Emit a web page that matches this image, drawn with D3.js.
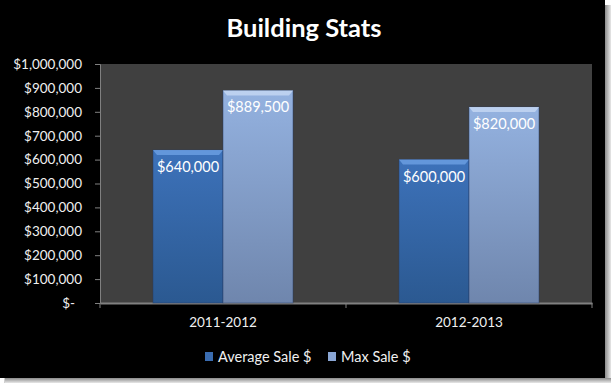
<!DOCTYPE html>
<html><head><meta charset="utf-8">
<script src="https://cdn.jsdelivr.net/npm/d3@7"></script>
<style>body{margin:0;background:#fff;}svg{display:block;}</style>
</head><body>
<svg id="c" width="611" height="383"></svg>
<script>
const categories = ["2011-2012", "2012-2013"];
const seriesNames = ["Average Sale $", "Max Sale $"];
const avgSale = [640000, 600000];
const maxSale = [889500, 820000];
const yTicks = [0,100000,200000,300000,400000,500000,600000,700000,800000,900000,1000000];

const svg = d3.select("#c");
const font = "Lato, 'Open Sans', sans-serif";
const defs = svg.append("defs");

// shadow frame
const sh = defs.append("linearGradient").attr("id","shR").attr("x1",0).attr("x2",1).attr("y1",0).attr("y2",0);
sh.append("stop").attr("offset",0).attr("stop-color","#8a8a8a");
sh.append("stop").attr("offset",1).attr("stop-color","#e8e8e8");
const shb = defs.append("linearGradient").attr("id","shB").attr("x1",0).attr("x2",0).attr("y1",0).attr("y2",1);
shb.append("stop").attr("offset",0).attr("stop-color","#8a8a8a");
shb.append("stop").attr("offset",1).attr("stop-color","#e8e8e8");
svg.append("rect").attr("x",4).attr("y",6).attr("width",607).attr("height",377).attr("fill","#d0d0d0");
svg.append("rect").attr("x",605).attr("y",5).attr("width",6).attr("height",378).attr("fill","url(#shR)");
svg.append("rect").attr("x",5).attr("y",378).attr("width",606).attr("height",5).attr("fill","url(#shB)");
svg.append("rect").attr("x",0).attr("y",0).attr("width",605).attr("height",378).attr("fill","#000");

// gradients for bars
function grad(id, top, bot){
  const g = defs.append("linearGradient").attr("id",id).attr("x1",0).attr("x2",0).attr("y1",0).attr("y2",1);
  g.append("stop").attr("offset",0).attr("stop-color",top);
  g.append("stop").attr("offset",1).attr("stop-color",bot);
}
grad("gAvg","#3d72ba","#2b5991");
grad("gMax","#94b2e0","#6f86ad");
const fills = ["url(#gAvg)","url(#gMax)"];
const edges = ["#6a9ee0","#c3d6f2"];
const legendFills = ["#3a6cb0","#8aa6d4"];

const plotL = 100, plotR = 592, plotT = 64, plotB = 303;

svg.append("text").attr("x",304).attr("y",37).attr("text-anchor","middle")
  .attr("fill","#fff").attr("font-family",font).attr("font-weight","bold").attr("font-size",25.5)
  .text("Building Stats");

svg.append("rect").attr("x",plotL).attr("y",plotT).attr("width",plotR-plotL).attr("height",plotB-plotT).attr("fill","#404040");

const y = d3.scaleLinear().domain([0,1000000]).range([plotB,plotT]);
const x0 = d3.scaleBand().domain(categories).range([plotL,plotR]).paddingInner(0).paddingOuter(0);
const x1 = d3.scaleBand().domain(seriesNames).range([0,x0.bandwidth()]).paddingInner(0).paddingOuter(0.757);

const fmt = d3.format("$,");
const yAxis = d3.axisLeft(y).tickValues(yTicks).tickSize(5).tickPadding(13)
  .tickFormat(d => d === 0 ? "$-" : fmt(d));
const ga = svg.append("g").attr("transform",`translate(${plotL},0)`).call(yAxis);
ga.selectAll("path,line").attr("stroke","#808080");
ga.selectAll("text").attr("fill","#f0f0f0").attr("font-family",font).attr("font-size",13.5)
  .attr("dx", d => d === 0 ? -7 : 0);

const xAxis = d3.axisBottom(x0).tickSize(0).tickPadding(14);
const gx = svg.append("g").attr("transform",`translate(0,${plotB})`).call(xAxis);
gx.select("path").attr("stroke","#808080").attr("stroke-width",2);
gx.selectAll("text").attr("fill","#f0f0f0").attr("font-family",font).attr("font-size",13.5);
gx.selectAll("line.cb").data([plotL, (plotL+plotR)/2, plotR]).enter().append("line")
  .attr("x1",d=>d).attr("x2",d=>d).attr("y1",0).attr("y2",5).attr("stroke","#808080");

const data = categories.map((c,i)=>({cat:c, vals:[avgSale[i], maxSale[i]]}));
const groups = svg.selectAll("g.grp").data(data).enter().append("g")
  .attr("transform", d=>`translate(${x0(d.cat)},0)`);
groups.each(function(d){
  const g = d3.select(this);
  d.vals.forEach((v,si)=>{
    const bx = x1(seriesNames[si]), bw = x1.bandwidth(), by = y(v), bh = plotB - y(v);
    g.append("rect").attr("x",bx).attr("y",by).attr("width",bw).attr("height",bh)
      .attr("fill",fills[si]).attr("stroke","rgba(40,60,100,0.6)").attr("stroke-width",0.8);
    g.append("path").attr("d",`M${bx},${by}L${bx+bw},${by}L${bx+bw-4},${by+5}L${bx+4},${by+5}Z`)
      .attr("fill",edges[si]).attr("opacity",0.85);
    g.append("text").attr("x",bx+bw/2).attr("y",by+22).attr("text-anchor","middle")
      .attr("fill","#fff").attr("font-family",font).attr("font-size",14.5).text(fmt(v));
  });
});

// legend
const legend = [{n:seriesNames[0], x:205},{n:seriesNames[1], x:328}];
legend.forEach((l,i)=>{
  svg.append("rect").attr("x",l.x).attr("y",352).attr("width",8).attr("height",9).attr("fill",legendFills[i]);
  svg.append("text").attr("x",l.x+13).attr("y",362).attr("fill","#f0f0f0").attr("font-family",font).attr("font-size",14.5).text(l.n);
});
</script>
</body></html>
